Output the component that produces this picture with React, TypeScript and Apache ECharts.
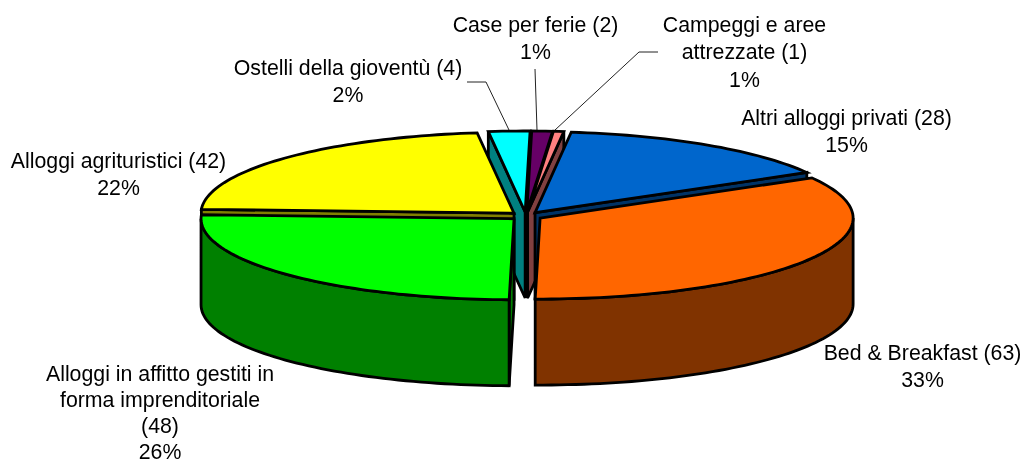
import React, { useEffect, useRef } from "react";
import * as echarts from "echarts";

const categories = ["Case per ferie (2)", "Campeggi e aree|attrezzate (1)", "Altri alloggi privati (28)", "Bed & Breakfast (63)", "Alloggi in affitto gestiti in|forma imprenditoriale|(48)", "Alloggi agrituristici (42)", "Ostelli della gioventù (4)"];
const values = [2, 1, 28, 63, 48, 42, 4];
const percents = ["1%", "1%", "15%", "33%", "26%", "22%", "2%"];
const topColors = ["#660066", "#FF8080", "#0066CC", "#FF6600", "#00FF00", "#FFFF00", "#00FFFF"];
const sideColors = ["#330033", "#804040", "#003366", "#803300", "#008000", "#808000", "#008080"];
const drawOrder = [6, 0, 1, 5, 2, 4, 3];
const labelPos = [[535.5, 25], [744.5, 25], [846.5, 118], [922.5, 353], [160, 374], [118.5, 161], [348, 68]];
const lineSteps = [27.3, 27.3, 27.3, 27.3, 26, 27.3, 27.3];
const leaders = [[[535, 69], [537, 130]], [[658, 52], [639, 52], [555, 130]], [[467, 82], [486, 82], [509, 130]]];

const CX = 526, CY = 216, RX = 313, RY = 81, DEPTH = 86, EX = 16.4, EY = 4, START = 0.9;
const total = values.reduce((a, b) => a + b, 0);
const rad = (d: number) => (d * Math.PI) / 180;

function sliceAngles(i: number) {
  let a = START;
  for (let k = 0; k < i; k++) a += (values[k] / total) * 360;
  return [a, a + (values[i] / total) * 360];
}

function renderSlice(_: any, api: any) {
  const i = api.value(0);
  const [a1, a2] = sliceAngles(i);
  const mid = (a1 + a2) / 2;
  const ax = CX + EX * Math.sin(rad(mid));
  const ay = CY - EY * Math.cos(rad(mid));
  const rim = (t: number): number[] => [ax + RX * Math.sin(rad(t)), ay - RY * Math.cos(rad(t))];
  const down = (p: number[]) => [p[0], p[1] + DEPTH];
  const arc = (s: number, e: number) => {
    const n = Math.max(2, Math.ceil(Math.abs(e - s) / 1.5));
    return Array.from({ length: n + 1 }, (_v, k) => rim(s + ((e - s) * k) / n));
  };
  const style = (fill: string, miterLimit: number) => ({ fill, stroke: "#000", lineWidth: 2.8, lineJoin: "miter", miterLimit });
  const children: any[] = [];
  const apex = [ax, ay];
  const face = (t: number) => ({
    type: "polygon",
    shape: { points: [rim(t), apex, down(apex), down(rim(t))] },
    style: style(sideColors[i], 10),
  });
  if (Math.sin(rad(a1)) < 0) children.push(face(a1));
  if (Math.sin(rad(a2)) > 0.03) children.push(face(a2));
  const ws = Math.max(a1, 90), we = Math.min(a2, 270);
  if (we > ws) {
    const top = arc(ws, we);
    children.push({
      type: "polygon",
      shape: { points: [...top, ...top.slice().reverse().map(down)] },
      style: style(sideColors[i], 4),
    });
  }
  children.push({ type: "polygon", shape: { points: [apex, ...arc(a1, a2)] }, style: style(topColors[i], 4) });
  return { type: "group", children };
}

export default function App() {
  const ref = useRef<HTMLDivElement>(null);
  useEffect(() => {
    const chart = echarts.init(ref.current!, null, { renderer: "svg" });
    const textStyle = { fontFamily: "Liberation Sans", fontSize: 21.3, fill: "#000", lineHeight: 14, textAlign: "center", textVerticalAlign: "middle" };
    const labelTexts = categories.flatMap((c, i) =>
      [...c.split("|"), percents[i]].map((line, k) => ({
        type: "text",
        x: labelPos[i][0],
        y: labelPos[i][1] + k * lineSteps[i],
        style: { ...textStyle, text: line },
        z: 5,
      }))
    );
    chart.setOption({
      animation: false,
      graphic: [
        ...leaders.map((pts) => ({
          type: "polyline",
          shape: { points: pts },
          style: { stroke: "#222", lineWidth: 1, fill: "none" },
          z: 1,
        })),
        ...labelTexts,
      ],
      series: [
        {
          type: "custom",
          coordinateSystem: "none",
          silent: true,
          data: drawOrder.map((i) => [i, values[i]]),
          renderItem: renderSlice,
          z: 2,
        },
      ],
    });
    return () => chart.dispose();
  }, []);
  return <div ref={ref} style={{ position: "fixed", left: 0, top: 0, width: 1024, height: 464 }} />;
}
